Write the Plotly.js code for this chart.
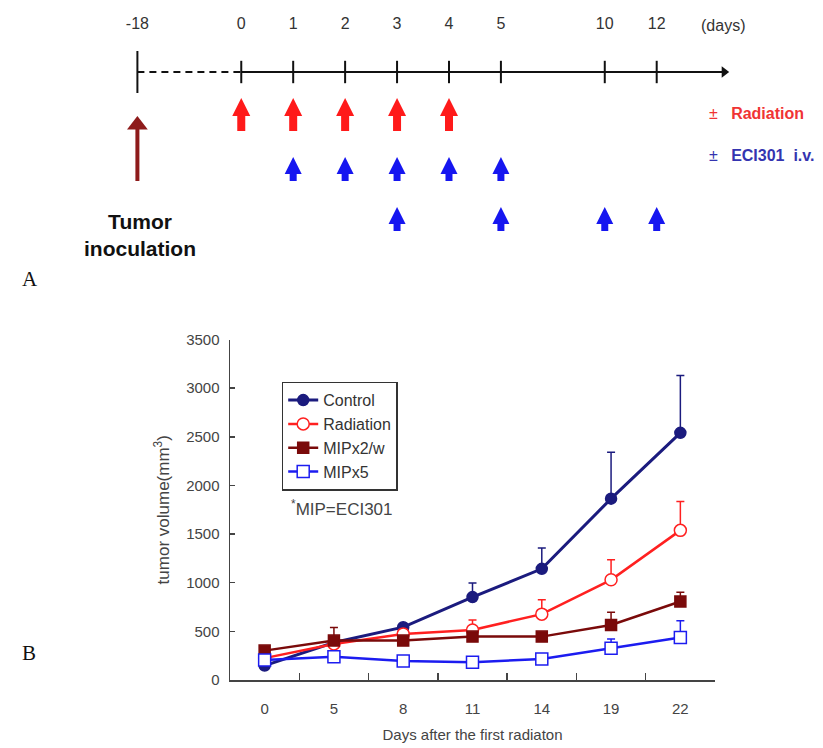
<!DOCTYPE html>
<html><head><meta charset="utf-8">
<script src="https://cdn.plot.ly/plotly-3.0.1.min.js"></script>
<style>html,body{margin:0;padding:0;background:#fff}#chart{width:823px;height:748px}</style>
</head><body><div id="chart"></div>
<script>
// ---------- Panel A: treatment schedule ----------
const timelineSlots = ["-18", "gap-a", "0", "1", "2", "3", "4", "5", "gap-b", "10", "12"];
const timelineDays = [-18, 0, 1, 2, 3, 4, 5, 10, 12];
const inoculationDay = [-18];
const radiationDays = [0, 1, 2, 3, 4];
const eciDailyDays = [1, 2, 3, 4, 5];
const eciSpacedDays = [3, 5, 10, 12];

// ---------- Panel B: tumor growth ----------
const days = ["0", "5", "8", "11", "14", "19", "22"];
const control = [148, 385, 543, 852, 1143, 1864, 2541];
const controlErr = [20, 40, 30, 144, 213, 477, 590];
const radiation = [225, 371, 474, 515, 677, 1030, 1538];
const radiationErr = [20, 30, 30, 103, 147, 206, 298];
const mipx2w = [302, 405, 405, 446, 446, 566, 807];
const mipx2wErr = [20, 134, 30, 30, 30, 131, 96];
const mipx5 = [206, 240, 196, 182, 216, 326, 436];
const mipx5Err = [20, 20, 20, 20, 20, 96, 172];

// ---------- styling / layout constants ----------
const W = 823, H = 748;
const slot = d => timelineSlots.indexOf(String(d));
const SLOT0_PX = 137.4, SLOT_W = 51.93;
const x2range = [(0 - SLOT0_PX) / SLOT_W, (W - SLOT0_PX) / SLOT_W];
const ROW = {label: 25, axis: 72, red: [98, 131], blue1: [157, 181], blue2: [207, 231], tumor: [116, 181]};
const NB = '\u00A0';

function arrow(dayList, color, tip, base, head, shaft, symbol) {
  const xs = [], ys = [];
  const isTri = symbol === 'triangle-up';
  dayList.forEach(d => { xs.push(slot(d), slot(d), null); ys.push(base, tip + head * 0.6, null); });
  return [
    {x: xs, y: ys, xaxis: 'x2', yaxis: 'y2', mode: 'lines', line: {color: color, width: shaft},
     hoverinfo: 'skip', showlegend: false},
    {x: dayList.map(slot), y: dayList.map(() => isTri ? tip + head / 2 : tip), xaxis: 'x2', yaxis: 'y2', mode: 'markers',
     marker: {symbol: symbol, size: head, color: color, line: {width: 0}},
     hoverinfo: 'skip', showlegend: false}
  ];
}

const traces = [];
// timeline: dashed part then solid axis with arrow
traces.push({x: [slot(-18), slot(0)], y: [ROW.axis, ROW.axis], xaxis: 'x2', yaxis: 'y2', mode: 'lines',
  line: {color: '#111', width: 2, dash: '7px,5px'}, showlegend: false, hoverinfo: 'skip'});
const endSlot = slot(12) + 1.3;
traces.push({x: [slot(0), endSlot], y: [ROW.axis, ROW.axis], xaxis: 'x2', yaxis: 'y2', mode: 'lines',
  line: {color: '#111', width: 2.2}, showlegend: false, hoverinfo: 'skip'});
traces.push({x: [endSlot], y: [ROW.axis], xaxis: 'x2', yaxis: 'y2', mode: 'markers',
  marker: {symbol: 'triangle-right', size: 10, color: '#111'}, showlegend: false, hoverinfo: 'skip'});
// tick marks on timeline
traces.push({x: timelineDays.slice(1).map(slot), y: timelineDays.slice(1).map(() => ROW.axis), xaxis: 'x2', yaxis: 'y2',
  mode: 'markers', marker: {symbol: 'line-ns', size: 16, line: {color: '#111', width: 2}}, showlegend: false, hoverinfo: 'skip'});
traces.push({x: inoculationDay.map(slot), y: [ROW.axis], xaxis: 'x2', yaxis: 'y2',
  mode: 'markers', marker: {symbol: 'line-ns', size: 30, line: {color: '#111', width: 2}}, showlegend: false, hoverinfo: 'skip'});
// day labels
traces.push({x: timelineDays.map(slot), y: timelineDays.map(() => ROW.label), xaxis: 'x2', yaxis: 'y2',
  mode: 'text', text: timelineDays.map(String), textfont: {family: 'Liberation Sans, Arial, sans-serif', size: 16, color: '#333'},
  showlegend: false, hoverinfo: 'skip'});
// arrows
traces.push(...arrow(inoculationDay, '#8e1b1b', ROW.tumor[0], ROW.tumor[1], 18, 4, 'triangle-up'));
traces.push(...arrow(radiationDays, '#ff1a1a', ROW.red[0], ROW.red[1], 18, 8, 'arrow-up'));
traces.push(...arrow(eciDailyDays, '#1616f0', ROW.blue1[0], ROW.blue1[1], 17, 7, 'arrow-up'));
traces.push(...arrow(eciSpacedDays, '#1616f0', ROW.blue2[0], ROW.blue2[1], 17, 7, 'arrow-up'));

// ---------- Panel B traces ----------
function series(name, y, err, color, symbol, fill, lw, ms) {
  return {x: days, y: y, name: name, type: 'scatter', mode: 'lines+markers',
    line: {color: color, width: lw},
    marker: {symbol: symbol, size: ms, color: fill, line: {color: color, width: 1.5}},
    error_y: {type: 'data', symmetric: false, array: err, arrayminus: err.map(() => 0),
      color: color, thickness: 1.5, width: 4},
    cliponaxis: false};
}
traces.push(series('Control', control, controlErr, '#1b1b7e', 'circle', '#1b1b7e', 3, 11));
traces.push(series('Radiation', radiation, radiationErr, '#ff2020', 'circle', '#ffffff', 2.5, 12));
traces.push(series('MIPx2/w', mipx2w, mipx2wErr, '#7a0a0a', 'square', '#7a0a0a', 2.5, 11));
traces.push(series('MIPx5', mipx5, mipx5Err, '#1c1cf0', 'square', '#ffffff', 2.5, 12));

const sans = 'Liberation Sans, Arial, sans-serif';
const layout = {
  width: W, height: H, margin: {l: 0, r: 0, t: 0, b: 0},
  paper_bgcolor: '#fff', plot_bgcolor: 'rgba(0,0,0,0)',
  font: {family: sans, color: '#333'},
  showlegend: true,
  legend: {x: 281.7 / W, y: 1 - 381.7 / H, xanchor: 'left', yanchor: 'top',
    bgcolor: '#fff', bordercolor: '#333', borderwidth: 1.5,
    font: {family: sans, size: 16, color: '#333'}, itemwidth: 30, tracegroupgap: 0},
  xaxis: {domain: [230 / W, 715 / W], type: 'category', categoryorder: 'array', categoryarray: days,
    range: [-0.5, 6.5], tickson: 'boundaries', ticks: 'inside', ticklen: 7, tickwidth: 1.5, tickcolor: '#444',
    showline: true, linecolor: '#444', linewidth: 1.5, showgrid: false, zeroline: false,
    tickfont: {family: sans, size: 15, color: '#444'}, ticklabelstandoff: 14,
    title: {text: 'Days after the first radiaton', font: {family: sans, size: 15, color: '#444'}, standoff: 14},
    anchor: 'y'},
  yaxis: {domain: [1 - 680 / H, 1 - 339.5 / H], range: [0, 3500], dtick: 500, tick0: 0,
    ticks: 'inside', ticklen: 5, tickwidth: 1.5, tickcolor: '#444',
    showline: true, linecolor: '#444', linewidth: 1.5, showgrid: false, zeroline: false,
    tickfont: {family: sans, size: 15, color: '#444'}, ticklabelstandoff: 6,
    title: {text: 'tumor volume(mm<sup>3</sup>)', font: {family: sans, size: 17, color: '#444'}, standoff: 12},
    anchor: 'x'},
  xaxis2: {domain: [0, 1], range: x2range, visible: false, fixedrange: true, anchor: 'y2'},
  yaxis2: {domain: [0, 1], range: [H, 0], visible: false, fixedrange: true, anchor: 'x2'},
  annotations: [
    {xref: 'x2', yref: 'y2', x: slot(12) + 1.27, y: ROW.label, text: '(days)', showarrow: false,
     font: {family: sans, size: 16, color: '#333'}},
    {xref: 'paper', yref: 'paper', x: 707 / W, y: 1 - 103 / H, xanchor: 'left', text: '±' + NB + NB + NB + '<b>Radiation</b>', showarrow: false,
     font: {family: sans, size: 16, color: '#f03434'}},
    {xref: 'paper', yref: 'paper', x: 707 / W, y: 1 - 145 / H, xanchor: 'left', text: '±' + NB + NB + NB + '<b>ECI301' + NB + NB + 'i.v.</b>', showarrow: false,
     font: {family: sans, size: 16, color: '#3434b0'}},
    {xref: 'x2', yref: 'y2', x: slot(-18) + 0.05, y: 235, text: '<b>Tumor<br>inoculation</b>', showarrow: false,
     font: {family: sans, size: 21, color: '#111'}},
    {xref: 'paper', yref: 'paper', x: 20 / W, y: 1 - 279 / H, text: 'A', showarrow: false,
     font: {family: 'Liberation Serif, Times New Roman, serif', size: 21, color: '#111'}},
    {xref: 'paper', yref: 'paper', x: 20 / W, y: 1 - 667 / H, text: 'B', showarrow: false,
     font: {family: 'Liberation Serif, Times New Roman, serif', size: 21, color: '#111'}},
    {xref: 'paper', yref: 'paper', x: 289 / W, y: 1 - 521 / H, xanchor: 'left', text: '<sup>*</sup>MIP=ECI301', showarrow: false,
     font: {family: sans, size: 17, color: '#444'}}
  ]
};
Plotly.newPlot('chart', traces, layout, {staticPlot: true, displayModeBar: false});
</script></body></html>
